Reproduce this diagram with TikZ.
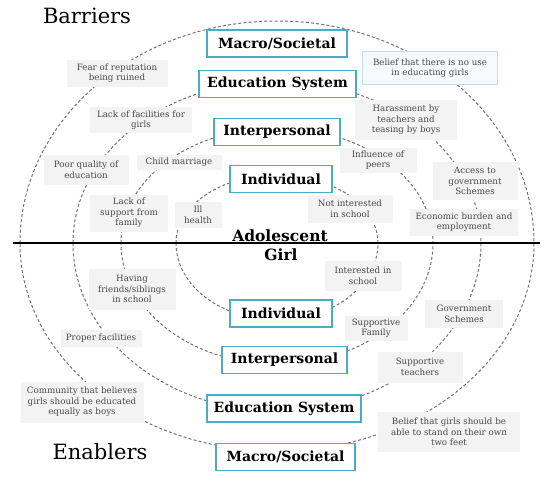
\documentclass[tikz,border=0pt]{standalone}
\usepackage{fontspec}
\setmainfont{DejaVu Serif}
\usepackage{xcolor}
\usepackage{tikz}
\usetikzlibrary{positioning}

\definecolor{levelblue}{HTML}{4BACC6}
\definecolor{ringgray}{HTML}{727272}
\definecolor{notefill}{HTML}{F3F3F3}
\definecolor{notetext}{HTML}{474747}
\definecolor{noteblue}{HTML}{C4E2EE}
\definecolor{noteblueFill}{HTML}{F6FAFC}

\begin{document}
\begin{tikzpicture}[
    x=1pt, y=-1pt,
    level/.style={rectangle, draw=levelblue, line width=1.5pt, fill=white, minimum height=27pt, inner sep=0pt, font=\bfseries\fontsize{14}{16}\selectfont},
    note/.style={rectangle, fill=notefill, text=notetext, align=center, inner xsep=5pt, inner ysep=2pt, font=\fontsize{8.7}{10.5}\selectfont},
    ring/.style={draw=ringgray, line width=1pt, dash pattern=on 3pt off 2.2pt},
    side_text/.style={font=\fontsize{21}{24}\selectfont},
    centre_text/.style={font=\bfseries\fontsize{15.5}{18}\selectfont, anchor=base}
]
\useasboundingbox (0,0) rectangle (552,485);

% Rings
\foreach \rx/\rtop/\rbot in {257/222/208, 204/162/168, 156/115/121, 101/68/77}
    \draw[ring] (277-\rx,243) arc[start angle=180, end angle=0, x radius=\rx pt, y radius=\rtop pt]
        arc[start angle=360, end angle=180, x radius=\rx pt, y radius=\rbot pt];

% Divider
\coordinate (axis_l) at (13,243);
\coordinate (axis_r) at (540,243);
\draw[line width=1.5pt] (axis_l) -- (axis_r);

% Barriers
\node (barriers) [side_text] at (87,16) {Barriers};
\node (fear) [note, minimum width=101pt, minimum height=27pt] at (117,73) {Fear of reputation\\being ruined};
\node (facilities) [note, minimum width=102pt, minimum height=26pt] at (141,120) {Lack of facilities for\\girls};
\node (no_use) [note, draw=noteblue, fill=noteblueFill, minimum width=135pt, minimum height=33pt] at (430,68) {Belief that there is no use\\in educating girls};
\node (harass) [note, minimum width=102pt, minimum height=40pt] at (406,120) {Harassment by\\teachers and\\teasing by boys};
\node (poor_quality) [note, minimum width=85pt, minimum height=30pt] at (86,170) {Poor quality of\\education};
\node (child_marriage) [note, minimum width=85pt, minimum height=15pt] at (179,162) {Child marriage};
\node (lack_support) [note, minimum width=78pt, minimum height=37pt] at (129,213) {Lack of\\support from\\family};
\node (ill_health) [note, minimum width=47pt, minimum height=26pt] at (198,215) {Ill\\health};
\node (peers) [note, minimum width=77pt, minimum height=25pt] at (378,160) {Influence of\\peers};
\node (access) [note, minimum width=85pt, minimum height=38pt] at (475,181) {Access to\\government\\Schemes};
\node (not_interested) [note, minimum width=85pt, minimum height=28pt] at (350,209) {Not interested\\in school};
\node (economic) [note, minimum width=108pt, minimum height=27pt] at (464,222) {Economic burden and\\employment};

% Enablers
\node (friends) [note, minimum width=87pt, minimum height=41pt] at (132,289) {Having\\friends/siblings\\in school};
\node (proper) [note, minimum width=81pt, minimum height=17pt] at (101,338) {Proper facilities};
\node (interested) [note, minimum width=77pt, minimum height=30pt] at (363,276) {Interested in\\school};
\node (gov) [note, minimum width=78pt, minimum height=28pt] at (464,314) {Government\\Schemes};
\node (sup_family) [note, minimum width=63pt, minimum height=25pt] at (376,328) {Supportive\\Family};
\node (sup_teachers) [note, minimum width=85pt, minimum height=31pt] at (420,367) {Supportive\\teachers};
\node (community) [note, minimum width=123pt, minimum height=41pt] at (82,402) {Community that believes\\girls should be educated\\equally as boys};
\node (stand) [note, minimum width=142pt, minimum height=40pt] at (449,432) {Belief that girls should be\\able to stand on their own\\two feet};
\node (enablers) [side_text] at (100,452) {Enablers};

% Levels
\node (macro_top) [level, minimum width=140pt] at (277,43.5) {Macro/Societal};
\node (edu_top) [level, minimum width=157pt] at (277.5,84) {Education System};
\node (inter_top) [level, minimum width=126pt] at (277,132) {Interpersonal};
\node (indiv_top) [level, minimum width=102pt] at (281,179) {Individual};
\node (indiv_bot) [level, minimum width=102pt] at (281,313.5) {Individual};
\node (inter_bot) [level, minimum width=125pt] at (284.5,360) {Interpersonal};
\node (edu_bot) [level, minimum width=154pt] at (284,408.5) {Education System};
\node (macro_bot) [level, minimum width=139pt] at (285.5,457) {Macro/Societal};

% Centre
\node (girl_a) [centre_text] at (280,241) {Adolescent};
\node (girl_b) [centre_text] at (281,260) {Girl};

\end{tikzpicture}
\end{document}
